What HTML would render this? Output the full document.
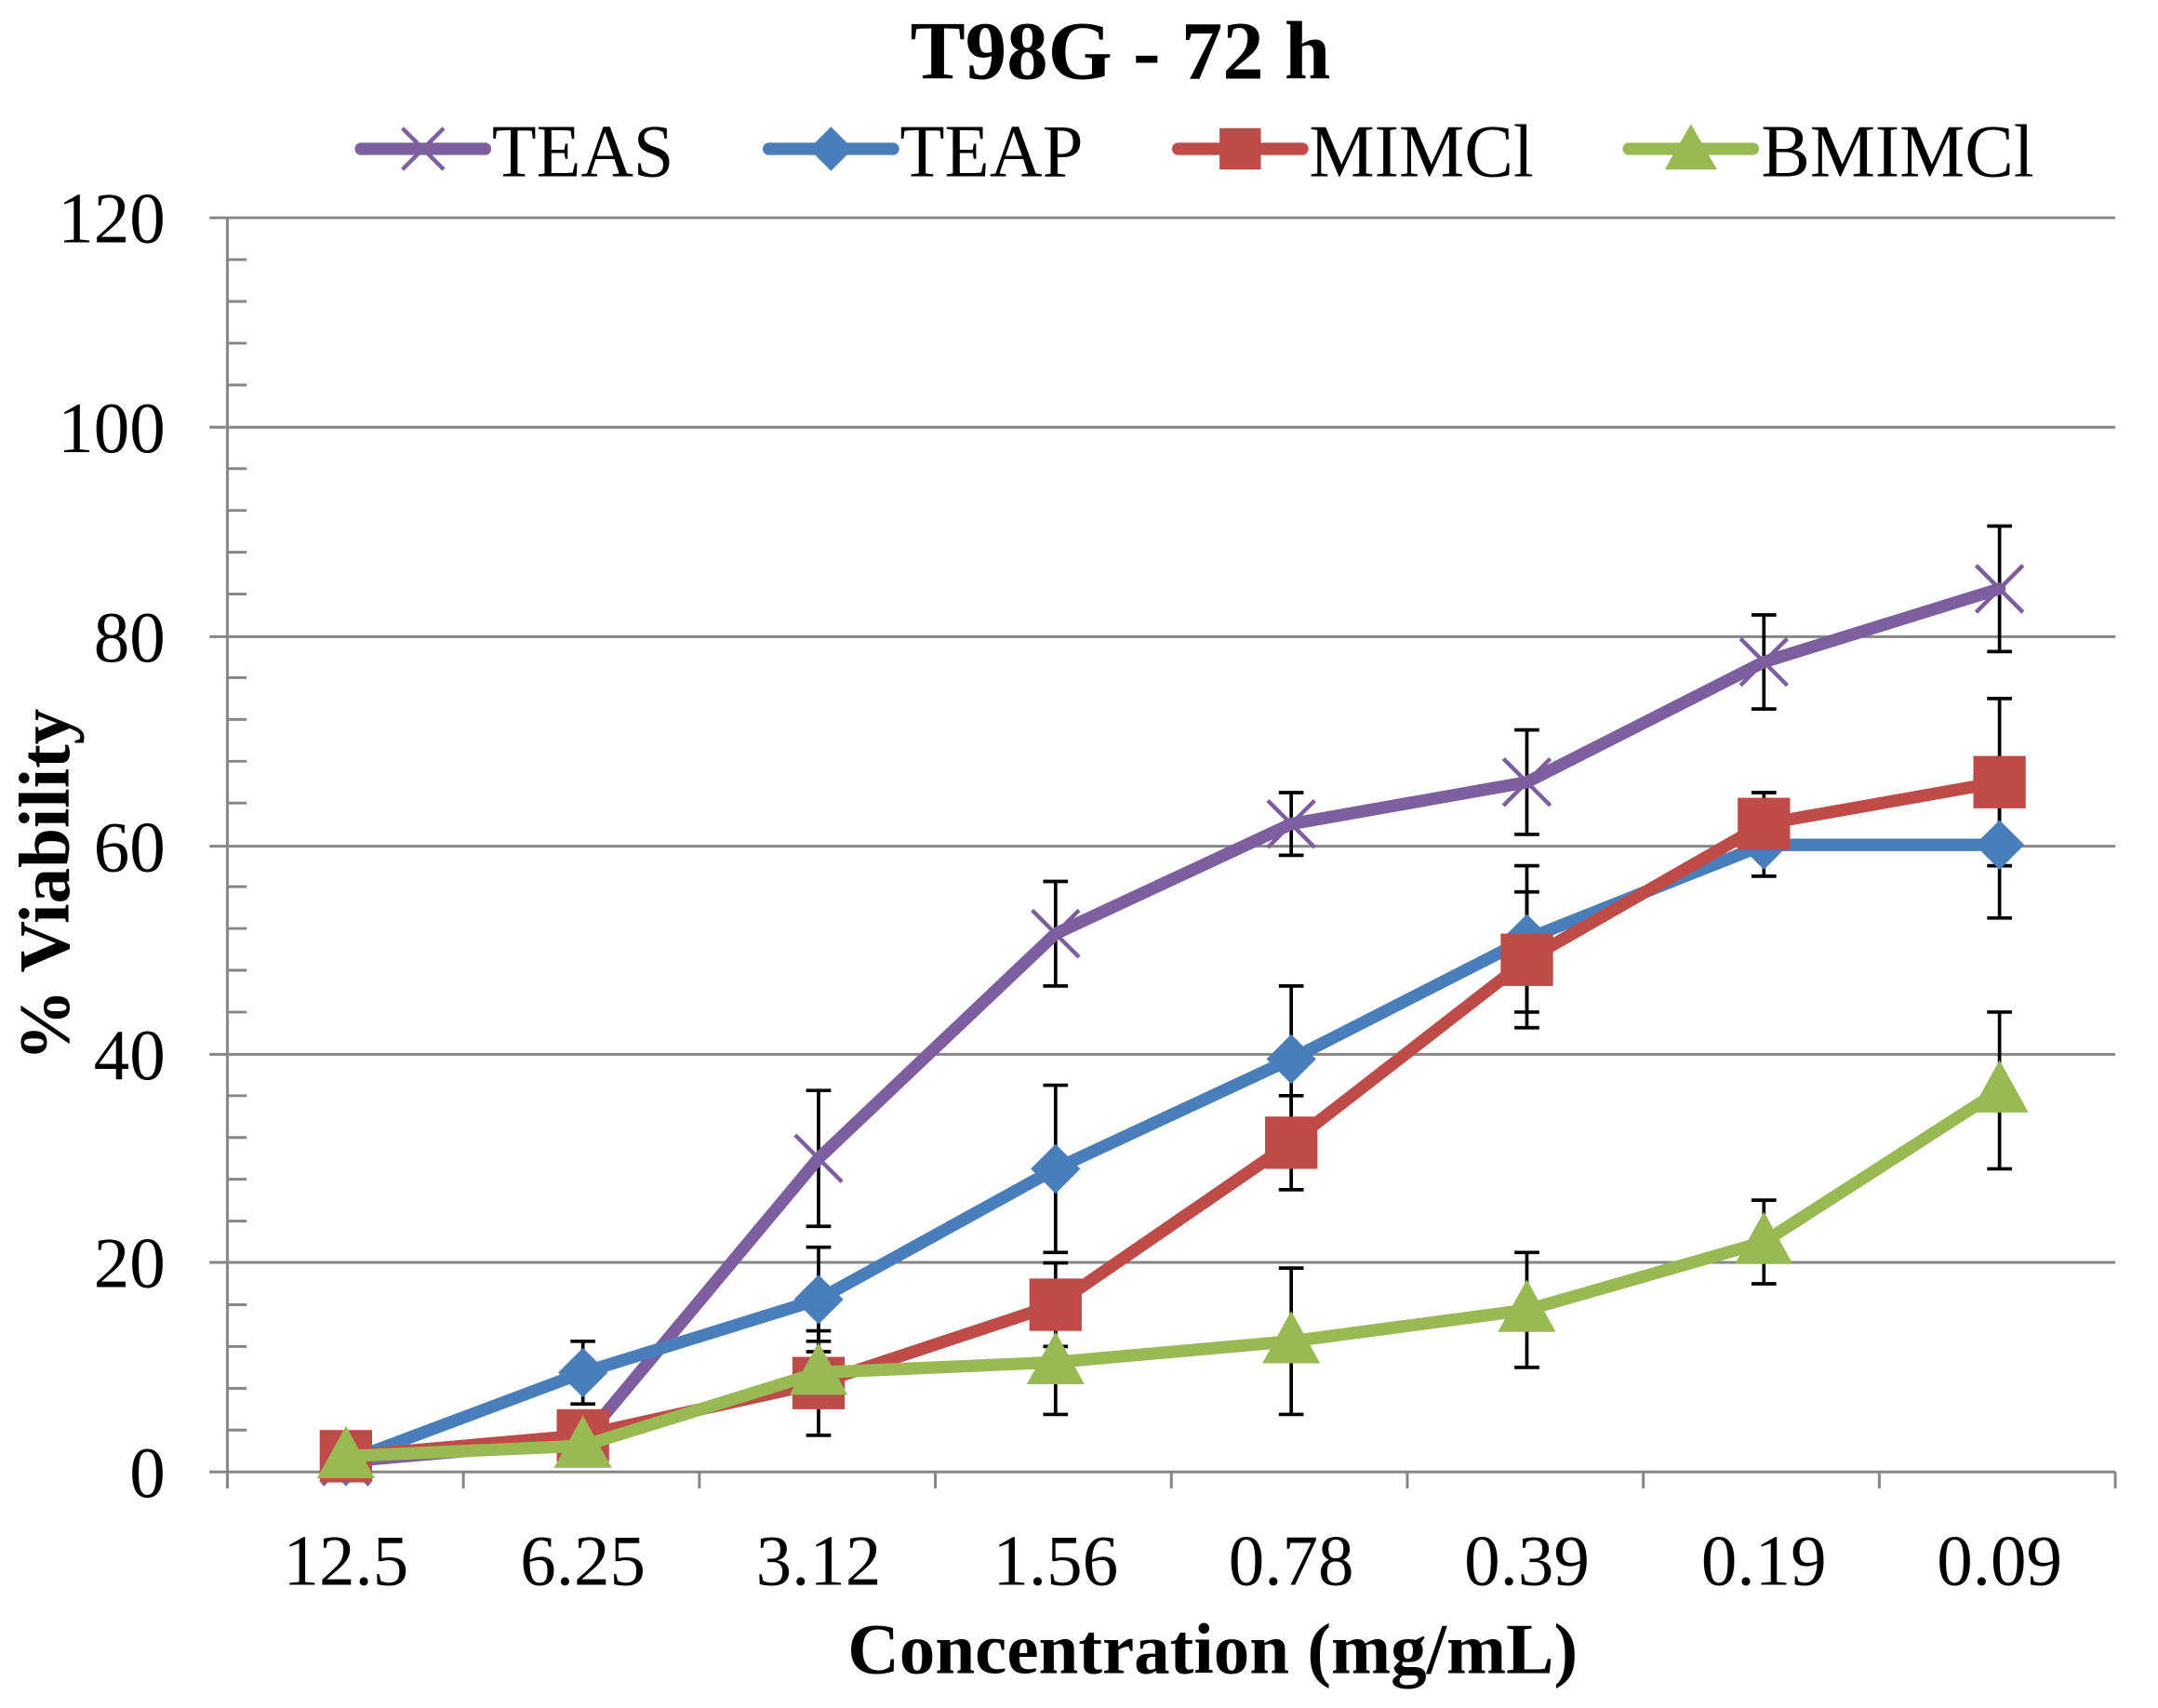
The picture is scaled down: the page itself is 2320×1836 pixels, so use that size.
<!DOCTYPE html>
<html><head><meta charset="utf-8"><style>
html,body{margin:0;padding:0;background:#fff;}
svg{display:block;}
text{font-family:"Liberation Serif",serif;}
</style></head><body>
<svg width="2320" height="1836" viewBox="0 0 1566 1239.3" xmlns="http://www.w3.org/2000/svg">
<rect width="1566" height="1239.3" fill="#fff"/>
<text x="813" y="57" font-size="60" font-weight="bold" text-anchor="middle">T98G - 72 h</text>
<g stroke-width="9" stroke-linecap="round">
<line x1="262" y1="108" x2="352" y2="108" stroke="#7D5FA0"/>
<line x1="558" y1="108" x2="648" y2="108" stroke="#4A7EBB"/>
<line x1="855" y1="108" x2="945" y2="108" stroke="#BE4B48"/>
<line x1="1182" y1="108" x2="1272" y2="108" stroke="#98B954"/>
</g>
<path d="M292 93 L322 123 M322 93 L292 123" stroke="#7D5FA0" stroke-width="3"/>
<path d="M603 92 L619 108 L603 124 L587 108Z" fill="#4A7EBB"/>
<rect x="885" y="93" width="30" height="30" fill="#BE4B48"/>
<path d="M1227 90 L1246 123 L1208 123Z" fill="#98B954"/>
<g font-size="54">
<text x="357" y="128" textLength="132" lengthAdjust="spacingAndGlyphs">TEAS</text>
<text x="653" y="128" textLength="133" lengthAdjust="spacingAndGlyphs">TEAP</text>
<text x="950" y="128" textLength="163" lengthAdjust="spacingAndGlyphs">MIMCl</text>
<text x="1278" y="128" textLength="198" lengthAdjust="spacingAndGlyphs">BMIMCl</text>
</g>
<g stroke="#868686" stroke-width="2">
<line x1="152" y1="158" x2="1535" y2="158"/>
<line x1="152" y1="310" x2="1535" y2="310"/>
<line x1="152" y1="462" x2="1535" y2="462"/>
<line x1="152" y1="614" x2="1535" y2="614"/>
<line x1="152" y1="765" x2="1535" y2="765"/>
<line x1="152" y1="916" x2="1535" y2="916"/>
<line x1="152" y1="1068" x2="1535" y2="1068"/>
<line x1="165" y1="158" x2="165" y2="1080"/>
</g>
<g stroke="#868686" stroke-width="2" id="minor"></g>
<g font-size="52" text-anchor="end">
<text x="120" y="176">120</text>
<text x="120" y="328">100</text>
<text x="120" y="480">80</text>
<text x="120" y="632">60</text>
<text x="120" y="783">40</text>
<text x="120" y="934">20</text>
<text x="120" y="1086">0</text>
</g>
<g font-size="52" text-anchor="middle">
<text x="251" y="1150">12.5</text>
<text x="423" y="1150">6.25</text>
<text x="594" y="1150">3.12</text>
<text x="766" y="1150">1.56</text>
<text x="937" y="1150">0.78</text>
<text x="1108" y="1150">0.39</text>
<text x="1280" y="1150">0.19</text>
<text x="1451" y="1150">0.09</text>
</g>
<text x="880" y="1214" font-size="52" font-weight="bold" text-anchor="middle">Concentration (mg/mL)</text>
<text transform="translate(50,642) rotate(-90)" font-size="52" font-weight="bold" text-anchor="middle">% Viability</text>
<g id="series"></g>
<script>
(function(){
var ns="http://www.w3.org/2000/svg";
var m=document.getElementById('minor');
function ln(g,x1,y1,x2,y2,c,w){var l=document.createElementNS(ns,'line');l.setAttribute('x1',x1);l.setAttribute('y1',y1);l.setAttribute('x2',x2);l.setAttribute('y2',y2);l.setAttribute('stroke',c);l.setAttribute('stroke-width',w);g.appendChild(l);}
for(var v=0;v<=120;v+=4){if(v%20)ln(m,165,1068-v*7.583,179,1068-v*7.583,'#868686',2);}
for(var k=0;k<=8;k++){var x=165+171.25*k;ln(m,x,1068,x,1080,'#868686',2);}
var X=[251,423,594,766,937,1108,1280,1451];
function Y(v){return 1068-v*7.583;}
var S=[
{c:'#7D5FA0',m:'x',d:[1,3,30,51.5,62,66,77.5,84.5],e:[0,0,6.5,5,3,5,4.5,6]},
{c:'#4A7EBB',m:'d',d:[1,9.5,16.5,29,39.5,51,60,60],e:[0,3,5,8,7,7,3,7]},
{c:'#BE4B48',m:'s',d:[1.5,3.5,8.5,16,31.5,49,62,66],e:[0,0,5,4,4.5,6.5,3,8]},
{c:'#98B954',m:'t',d:[1.5,2.5,9.5,10.5,12.5,15.5,22,36.5],e:[0,0,3,5,7,5.5,4,7.5]}];
var g=document.getElementById('series');
S.forEach(function(s){
 s.d.forEach(function(v,i){if(s.e[i]){var y1=Y(v+s.e[i]),y2=Y(v-s.e[i]);ln(g,X[i],y1,X[i],y2,'#000',2.5);ln(g,X[i]-9,y1,X[i]+9,y1,'#000',2.5);ln(g,X[i]-9,y2,X[i]+9,y2,'#000',2.5);}});
});
S.forEach(function(s){
 var p=document.createElementNS(ns,'polyline');
 p.setAttribute('points',s.d.map(function(v,i){return X[i]+','+Y(v);}).join(' '));
 p.setAttribute('fill','none');p.setAttribute('stroke',s.c);p.setAttribute('stroke-width',9);p.setAttribute('stroke-linejoin','round');p.setAttribute('stroke-linecap','round');
 g.appendChild(p);
 s.d.forEach(function(v,i){var x=X[i],y=Y(v),e;
  if(s.m=='x'){ln(g,x-17,y-17,x+17,y+17,s.c,3);ln(g,x-17,y+17,x+17,y-17,s.c,3);return;}
  if(s.m=='s'){e=document.createElementNS(ns,'rect');e.setAttribute('x',x-19);e.setAttribute('y',y-19);e.setAttribute('width',38);e.setAttribute('height',38);}
  else{e=document.createElementNS(ns,'path');
   if(s.m=='d')e.setAttribute('d','M'+x+' '+(y-18)+'L'+(x+18)+' '+y+'L'+x+' '+(y+18)+'L'+(x-18)+' '+y+'Z');
   else e.setAttribute('d','M'+x+' '+(y-22)+'L'+(x+21)+' '+(y+16)+'L'+(x-21)+' '+(y+16)+'Z');}
  e.setAttribute('fill',s.c);g.appendChild(e);});
});
})();
</script>
</svg>
</body></html>
